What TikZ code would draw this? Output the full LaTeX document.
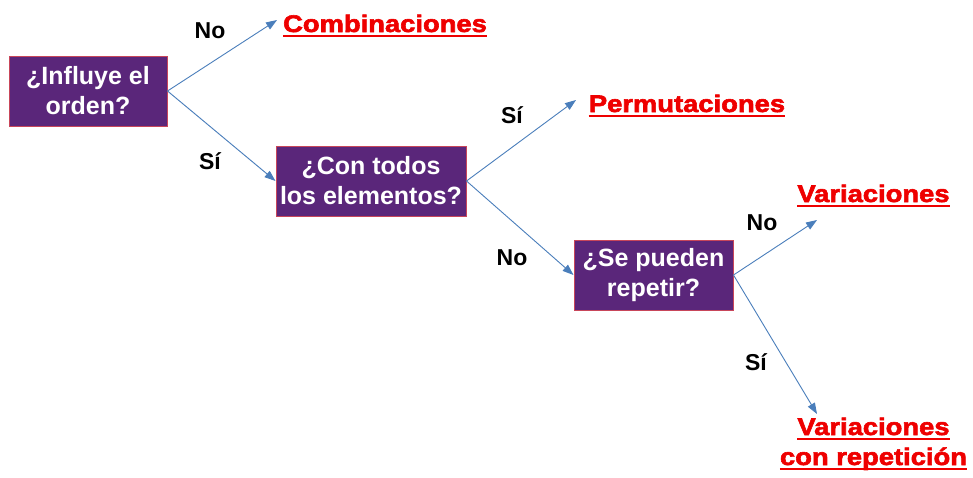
\documentclass[tikz,border=0pt]{standalone}
\usepackage{fontspec}
\setmainfont{Liberation Sans}
\newfontfamily\heavyfont[FakeStretch=1.14,FakeBold=2.5]{Liberation Sans Bold}
\usetikzlibrary{arrows.meta}
\definecolor{boxpurple}{RGB}{90,38,122}
\definecolor{boxborder}{RGB}{200,70,90}
\definecolor{arrowblue}{RGB}{74,126,187}
\definecolor{answerred}{RGB}{238,0,0}
\begin{document}
\begin{tikzpicture}[x=1pt,y=-1pt,
  qbox/.style={draw=boxborder,line width=1pt,fill=boxpurple,text=white,
    minimum height=70pt,inner sep=0pt,align=center,
    font=\fontsize{25}{30}\selectfont\bfseries},
  ans/.style={text=answerred,inner sep=0pt,anchor=base,
    font=\fontsize{24}{28}\selectfont\heavyfont},
  ulin/.style={draw=answerred,line width=2.2pt},
  lab/.style={font=\fontsize{23}{26}\selectfont\bfseries,text=black,inner sep=0pt},
  conn/.style={draw=arrowblue,line width=0.9pt,-{Triangle[length=11pt,width=8pt]}}]
\useasboundingbox (0,0) rectangle (973,477);

% question boxes
\node[qbox,minimum width=158pt] (q1) at (88,91) {¿Influye el\\orden?};
\node[qbox,minimum width=190pt] (q2) at (371,181) {¿Con todos\\los elementos?};
\node[qbox,minimum width=159pt] (q3) at (653.5,275) {¿Se pueden\\repetir?};

% answers
\node[ans] (comb) at (385,32) {Combinaciones};
\node[ans] (perm) at (687,112) {Permutaciones};
\node[ans] (vari) at (873.5,202) {Variaciones};
\node[ans] (varr1) at (873.5,435) {Variaciones};
\node[ans] (varr2) at (873.5,465) {con repetición};

\foreach \n in {comb,perm,vari,varr1,varr2}{
  \draw[ulin] ([yshift=-4pt]\n.base west) -- ([yshift=-4pt]\n.base east);
}

% free ends
\coordinate (c1) at (277,20);
\coordinate (c2) at (576,100);
\coordinate (c3) at (817,220);
\coordinate (c4) at (817,414);

% connectors
\draw[conn] (q1.east) -- (c1);
\draw[conn] (q1.east) -- (q2.west);
\draw[conn] (q2.east) -- (c2);
\draw[conn] (q2.east) -- (q3.west);
\draw[conn] (q3.east) -- (c3);
\draw[conn] (q3.east) -- (c4);

% labels
\node[lab] (l1) at (210,31) {No};
\node[lab] (l2) at (210,161) {Sí};
\node[lab] (l3) at (512,115) {Sí};
\node[lab] (l4) at (512,258) {No};
\node[lab] (l5) at (762,223) {No};
\node[lab] (l6) at (756,362) {Sí};
\end{tikzpicture}
\end{document}
